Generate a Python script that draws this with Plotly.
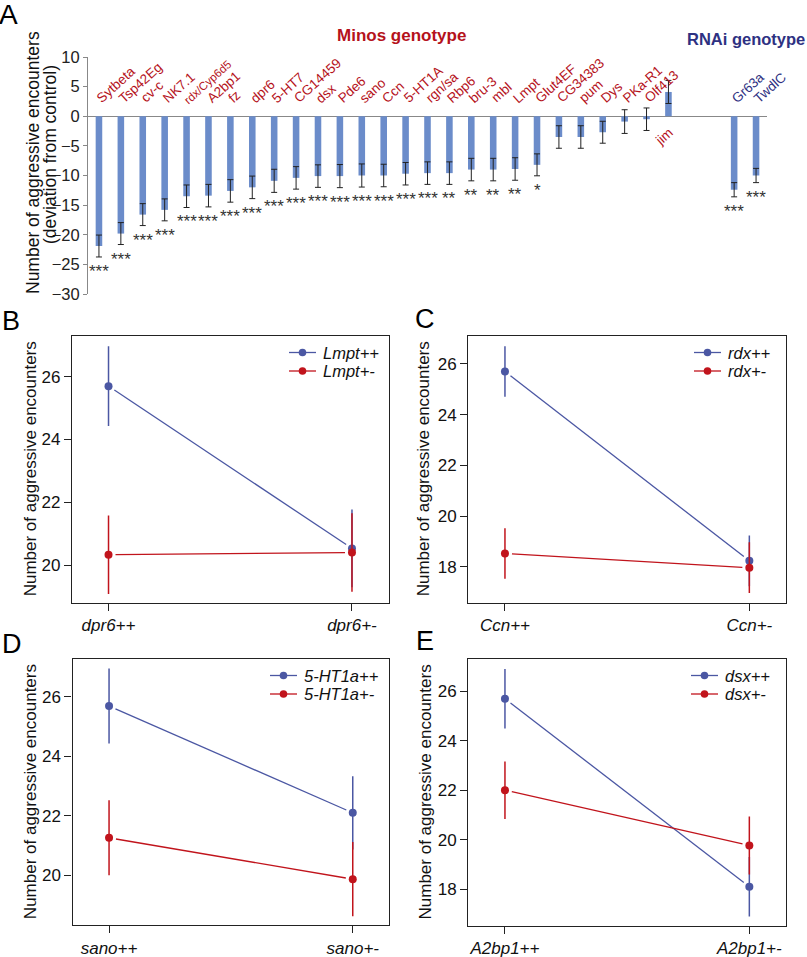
import math
import plotly.graph_objects as go

W, H = 807, 957
FONT = "Liberation Sans, Arial, Helvetica, sans-serif"
BLUE = "#4b57a3"
RED = "#c1141c"
BAR = "#6b8cca"
MINOS_RED = "#b5121b"
RNAI_NAVY = "#2e3182"

# ---------------- Panel A data ----------------
minos_genes = ["Sytbeta", "Tsp42Eg", "cv-c", "NK7.1", "rdx/Cyp6d5", "A2bp1", "fz", "dpr6",
               "5-HT7", "CG14459", "dsx", "Pde6", "sano", "Ccn", "5-HT1A", "rgn/sa", "Rbp6",
               "bru-3", "mbl", "Lmpt", "Glut4EF", "CG34383", "pum", "Dys", "PKa-R1", "Olf413", "jim"]
minos_dev = [-21.9, -19.8, -16.6, -15.8, -13.5, -13.4, -12.6, -12.0, -10.9, -10.4, -10.1, -10.1,
             -10.0, -10.0, -9.7, -9.6, -9.6, -9.0, -9.0, -8.9, -8.2, -3.5, -3.5, -2.7, -0.9, -0.5, 4.1]
minos_err = [1.85, 1.85, 1.85, 1.85, 1.9, 1.9, 1.9, 1.9, 1.95, 1.9, 1.9, 1.95,
             1.95, 1.9, 1.9, 1.9, 1.9, 1.9, 1.9, 1.9, 1.85, 1.9, 1.9, 1.85, 2.0, 1.9, 1.95]
minos_sig = ["***"] * 16 + ["**"] * 4 + ["*"] + [""] * 6
rnai_genes = ["Gr63a", "TwdlC"]
rnai_dev = [-12.4, -10.0]
rnai_err = [1.2, 1.2]
rnai_sig = ["***", "***"]
a_ticks = [-30, -25, -20, -15, -10, -5, 0, 5, 10]

# ---------------- Panels B-E data ----------------
b_groups = ["dpr6++", "dpr6+-"]
b_series = ["Lmpt++", "Lmpt+-"]
b_pp_mean = [25.70, 20.53]
b_pp_err = [1.27, 1.24]
b_pm_mean = [20.33, 20.40]
b_pm_err = [1.25, 1.25]
b_ticks = [20, 22, 24, 26]

c_groups = ["Ccn++", "Ccn+-"]
c_series = ["rdx++", "rdx+-"]
c_pp_mean = [25.70, 18.23]
c_pp_err = [1.00, 1.00]
c_pm_mean = [18.52, 17.96]
c_pm_err = [1.00, 1.00]
c_ticks = [18, 20, 22, 24, 26]

d_groups = ["sano++", "sano+-"]
d_series = ["5-HT1a++", "5-HT1a+-"]
d_pp_mean = [25.69, 22.10]
d_pp_err = [1.26, 1.23]
d_pm_mean = [21.26, 19.87]
d_pm_err = [1.26, 1.25]
d_ticks = [20, 22, 24, 26]

e_groups = ["A2bp1++", "A2bp1+-"]
e_series = ["dsx++", "dsx+-"]
e_pp_mean = [25.69, 18.10]
e_pp_err = [1.20, 1.20]
e_pm_mean = [22.00, 19.77]
e_pm_err = [1.16, 1.17]
e_ticks = [18, 20, 22, 24, 26]


def px(x):
    return x / W


def py(y):
    return 1 - y / H


fig = go.Figure()

# ================= Panel A =================
n_m = len(minos_genes)
gap = 2
minos_x = list(range(n_m))
rnai_x = [n_m + gap + i for i in range(len(rnai_genes))]
all_x = minos_x + rnai_x
all_dev = minos_dev + rnai_dev
all_err = minos_err + rnai_err
all_sig = minos_sig + rnai_sig

fig.add_trace(go.Bar(
    x=all_x, y=all_dev, width=0.3, marker=dict(color=BAR, line=dict(width=0)),
    error_y=dict(type="data", array=all_err, color="#222", thickness=1, width=3),
    xaxis="x", yaxis="y", showlegend=False, hoverinfo="skip"))

A_X0, A_X1, A_Y0, A_Y1 = 88, 767, 57, 294
x_rng_A = [-0.5, all_x[-1] + 0.5]
y_rng_A = [-30, 10]

annotations = []
shapes = []
# gene labels
for xi, g, v in zip(all_x, minos_genes + rnai_genes, all_dev):
    col = MINOS_RED if xi < n_m else RNAI_NAVY
    size = 11.5 if "Cyp" in g else 13.5
    if v >= 0:
        annotations.append(dict(x=xi - 0.85, y=-1.0, xref="x", yref="y", text=g, showarrow=False,
                                textangle=-42, xanchor="left", yanchor="top",
                                font=dict(family=FONT, size=size, color=col)))
    else:
        annotations.append(dict(x=xi - 0.35, y=1.3, xref="x", yref="y", text=g, showarrow=False,
                                textangle=-42, xanchor="left", yanchor="bottom",
                                font=dict(family=FONT, size=size, color=col)))
# significance stars
for xi, v, e, s in zip(all_x, all_dev, all_err, all_sig):
    if s:
        annotations.append(dict(x=xi, y=v - e, xref="x", yref="y", text=s, showarrow=False,
                                xanchor="center", yanchor="top", yshift=-3,
                                font=dict(family=FONT, size=17, color="#333")))

annotations += [
    dict(x=px(401), y=py(35), xref="paper", yref="paper", text="<b>Minos genotype</b>",
         xanchor="center", yanchor="middle",
         showarrow=False, font=dict(family=FONT, size=17, color=MINOS_RED)),
    dict(x=px(746), y=py(39), xref="paper", yref="paper", text="<b>RNAi genotype</b>",
         xanchor="center", yanchor="middle",
         showarrow=False, font=dict(family=FONT, size=16.5, color=RNAI_NAVY)),
    dict(x=px(33), y=py(163), xref="paper", yref="paper", text="Number of aggressive encounters",
         xanchor="center", yanchor="middle",
         textangle=-90, showarrow=False, font=dict(family=FONT, size=17.5, color="#111")),
    dict(x=px(50), y=py(155), xref="paper", yref="paper", text="(deviation from control)",
         xanchor="center", yanchor="middle",
         textangle=-90, showarrow=False, font=dict(family=FONT, size=17.5, color="#111")),
]

layout_axes = dict(
    xaxis=dict(domain=[px(A_X0), px(A_X1)], range=x_rng_A, showline=False, showticklabels=False,
               ticks="", showgrid=False, zeroline=False, anchor="y", automargin=False),
    yaxis=dict(domain=[py(A_Y1), py(A_Y0)], range=y_rng_A, tickvals=a_ticks, ticks="outside",
               ticklen=4, tickcolor="#888", showline=True, linecolor="#888", linewidth=1,
               showgrid=False, zeroline=True, zerolinecolor="#888", zerolinewidth=1,
               tickfont=dict(family=FONT, size=16.5, color="#222"), anchor="x", automargin=False),
)

# ================= Panels B-E =================
# letter, axis index, plot box (px), y range, data..., letter pos, y-title x, legend text x, legend rows y
panels = [
    ("B", 2, (72, 388.5, 336, 602.7), [18.8, 27.3], b_groups, b_series, b_pp_mean, b_pp_err,
     b_pm_mean, b_pm_err, b_ticks, (0, 304), 30, 322, (352.5, 371)),
    ("C", 3, (468.3, 786, 336, 602.7), [16.58, 27.1], c_groups, c_series, c_pp_mean, c_pp_err,
     c_pm_mean, c_pm_err, c_ticks, (413, 302), 423, 727, (352.5, 371)),
    ("D", 4, (72.5, 389.3, 659.3, 925), [18.33, 27.26], d_groups, d_series, d_pp_mean, d_pp_err,
     d_pm_mean, d_pm_err, d_ticks, (0, 627), 30, 303, (675.5, 694)),
    ("E", 5, (468.3, 786, 659.3, 925.7), [16.53, 27.28], e_groups, e_series, e_pp_mean, e_pp_err,
     e_pm_mean, e_pm_err, e_ticks, (414, 624), 425, 724, (675.5, 694)),
]
x_rng = [0.85, 2.15]
GAP_PX = 7
MR = 3.8  # marker radius in px (legend)

for (letter, k, box, yr, groups, series, pp_m, pp_e, pm_m, pm_e, ticks, lpos, title_x,
     leg_x, leg_rows) in panels:
    x0, x1, y0, y1 = box
    xa, ya = f"x{k}", f"y{k}"
    sx = (x1 - x0) / (x_rng[1] - x_rng[0])
    sy = (y1 - y0) / (yr[1] - yr[0])
    xs = [1, 2]
    for (name, means, errs, col), ry in zip(
            [(series[0], pp_m, pp_e, BLUE), (series[1], pm_m, pm_e, RED)], leg_rows):
        dxp = (xs[1] - xs[0]) * sx
        dyp = (means[1] - means[0]) * sy
        L = math.hypot(dxp, dyp)
        t = GAP_PX / L
        lx = [xs[0] + t * (xs[1] - xs[0]), xs[1] - t * (xs[1] - xs[0])]
        ly = [means[0] + t * (means[1] - means[0]), means[1] - t * (means[1] - means[0])]
        fig.add_trace(go.Scatter(x=lx, y=ly, mode="lines", line=dict(color=col, width=1.3),
                                 xaxis=xa, yaxis=ya, showlegend=False, hoverinfo="skip"))
        fig.add_trace(go.Scatter(x=xs, y=means, mode="markers", name=name,
                                 marker=dict(color=col, size=8),
                                 error_y=dict(type="data", array=errs, color=col, thickness=1.5, width=0),
                                 xaxis=xa, yaxis=ya, showlegend=False, hoverinfo="skip"))
        # manual legend entry
        shapes.append(dict(type="line", xref="paper", yref="paper",
                           x0=px(leg_x - 33), x1=px(leg_x - 6), y0=py(ry), y1=py(ry),
                           line=dict(color=col, width=1.3)))
        cx = leg_x - 19.5
        shapes.append(dict(type="circle", xref="paper", yref="paper",
                           x0=px(cx - MR), x1=px(cx + MR), y0=py(ry + MR), y1=py(ry - MR),
                           fillcolor=col, line=dict(color=col, width=0)))
        annotations.append(dict(x=px(leg_x), y=py(ry), xref="paper", yref="paper",
                                text=f"<i>{name}</i>", xanchor="left", yanchor="middle",
                                borderpad=0, showarrow=False,
                                font=dict(family=FONT, size=16.5, color="#111")))
    layout_axes[f"xaxis{k}"] = dict(
        domain=[px(x0), px(x1)], range=x_rng, tickvals=xs,
        ticktext=[f"<i>{g}</i>" for g in groups], ticks="outside", ticklen=7, tickcolor="#222",
        showline=True, mirror=True, linecolor="#222", linewidth=1.3, showgrid=False, zeroline=False,
        tickfont=dict(family=FONT, size=17, color="#111"), anchor=ya, automargin=False)
    layout_axes[f"yaxis{k}"] = dict(
        domain=[py(y1), py(y0)], range=yr, tickvals=ticks, ticks="outside", ticklen=7,
        tickcolor="#222", showline=True, mirror=True, linecolor="#222", linewidth=1.3,
        showgrid=False, zeroline=False, tickfont=dict(family=FONT, size=17, color="#111"),
        anchor=xa, automargin=False)
    annotations.append(dict(x=px(title_x), y=py((y0 + y1) / 2), xref="paper", yref="paper",
                            text="Number of aggressive encounters", textangle=-90, showarrow=False,
                            xanchor="center", yanchor="middle",
                            font=dict(family=FONT, size=17, color="#111")))
    annotations.append(dict(x=px(lpos[0]), y=py(lpos[1]), xref="paper", yref="paper", text=letter,
                            xanchor="left", yanchor="top", showarrow=False,
                            font=dict(family=FONT, size=27, color="#000")))

annotations.append(dict(x=px(-3), y=py(-3), xref="paper", yref="paper", text="A",
                        xanchor="left", yanchor="top", showarrow=False,
                        font=dict(family=FONT, size=28, color="#000")))

fig.update_layout(
    template="none", showlegend=False,
    width=W, height=H, margin=dict(l=0, r=0, t=0, b=0, autoexpand=False),
    paper_bgcolor="white", plot_bgcolor="white",
    annotations=annotations, shapes=shapes, **layout_axes)

fig.write_html("out.html", config={"displayModeBar": False},
               post_script="document.body.style.margin='0';document.body.style.overflow='hidden';")
